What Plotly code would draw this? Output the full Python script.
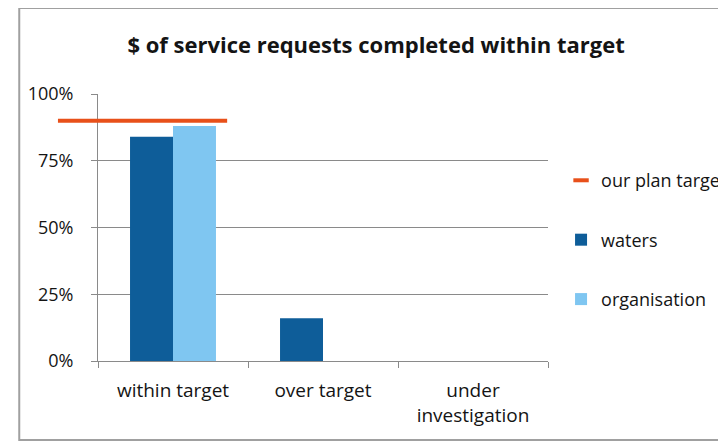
import plotly.graph_objects as go

categories = ["within target", "over target", "under<br>investigation"]
waters = [0.84, 0.16, 0.0]
organisation = [0.88, None, None]
plan_target = 0.90
y_ticks = [0, 0.25, 0.5, 0.75, 1.0]
y_tick_labels = ["0%", "25%", "50%", "75%", "100%"]

FONT = "Open Sans"
TXT = "#141414"
GRID = "#8a8a8a"

fig = go.Figure()

# legend entry for the target line (the line itself is drawn as a shape below)
fig.add_trace(go.Scatter(
    x=[None], y=[None], mode="markers", name="our plan target",
    marker=dict(symbol="line-ew", size=11, line=dict(color="#e8501a", width=4)),
    legendgroup="t", showlegend=True))
fig.add_trace(go.Bar(x=categories, y=waters, name="waters",
                     marker=dict(color="#0e5d99", line=dict(width=0)),
                     legendgroup="w"))
fig.add_trace(go.Bar(x=categories, y=organisation, name="organisation",
                     marker=dict(color="#7fc6f1", line=dict(width=0)),
                     legendgroup="o"))

fig.add_shape(type="line", xref="paper", yref="y",
              x0=-0.089, x1=0.287, y0=plan_target, y1=plan_target,
              line=dict(color="#e8501a", width=4), layer="above")

# chart frame
fig.add_shape(type="rect", xref="paper", yref="paper",
              x0=-0.175, x1=1.6, y0=-0.296, y1=1.322,
              line=dict(color="#a0a0a0", width=2), layer="below")

fig.update_layout(
    width=726, height=443,
    margin=dict(l=90, r=186, t=86, b=90, autoexpand=False),
    paper_bgcolor="white", plot_bgcolor="white",
    barmode="group", bargap=0.427, bargroupgap=0,
    font=dict(family=FONT, size=18, color=TXT),
    title=dict(text="<b>$ of service requests completed within target</b>",
               xref="paper", x=0.618, xanchor="center",
               yref="container", y=0.916, yanchor="middle",
               font=dict(family=FONT, size=22, color=TXT)),
    legend=dict(x=1.029, xanchor="left", y=0.745, yanchor="top",
                tracegroupgap=33, traceorder="grouped",
                font=dict(family=FONT, size=18, color=TXT),
                bgcolor="rgba(0,0,0,0)"),
    showlegend=True,
)

fig.update_yaxes(range=[0, 1.0], tickvals=y_ticks, ticktext=y_tick_labels,
                 showgrid=True, gridcolor=GRID, gridwidth=1,
                 showline=True, linecolor=GRID, linewidth=1,
                 ticks="outside", ticklen=6, tickcolor=GRID,
                 ticklabelstandoff=14, zeroline=False,
                 tickfont=dict(family=FONT, size=18, color=TXT))
fig.update_xaxes(type="category", showline=True, linecolor=GRID, linewidth=1,
                 ticks="outside", tickson="boundaries", ticklen=6, tickcolor=GRID,
                 showgrid=False, ticklabelstandoff=12,
                 tickfont=dict(family=FONT, size=19, color=TXT))

fig.write_html("out.html")
